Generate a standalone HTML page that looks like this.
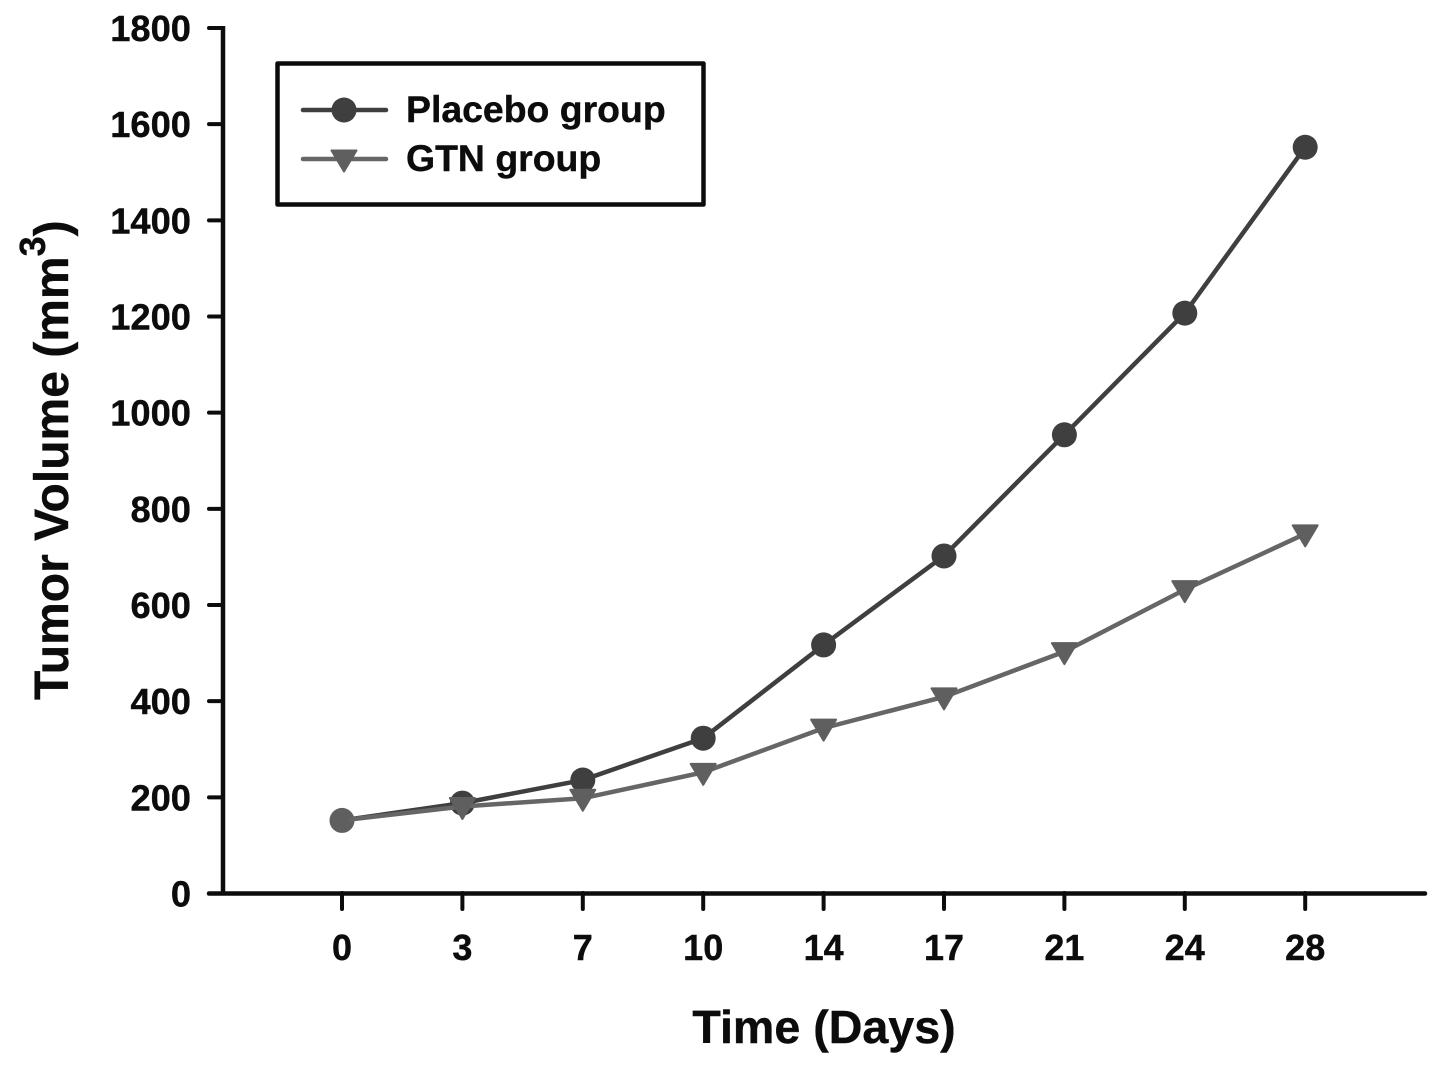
<!DOCTYPE html>
<html>
<head>
<meta charset="utf-8">
<style>
html,body{margin:0;padding:0;background:#fff;}
svg{display:block;}
text{font-family:"Liberation Sans",Arial,sans-serif;font-weight:bold;fill:#0c0c0c;stroke:#0c0c0c;stroke-width:0.4px;}
</style>
</head>
<body>
<svg id="chart" width="1441" height="1070" viewBox="0 0 1441 1070" xmlns="http://www.w3.org/2000/svg"></svg>
<script>
const categories = ['0','3','7','10','14','17','21','24','28'];
const placeboValues = [152,188,236,323,517,702,954,1207,1552];
const gtnValues = [152,181,198,252,344,409,503,632,748];
const yTicks = [0,200,400,600,800,1000,1200,1400,1600,1800];

const svg = document.getElementById('chart');
const NS = 'http://www.w3.org/2000/svg';
const DARK = '#3f3f3f';
const GRAY = '#5f5f5f';
const LINE_GRAY = '#666666';
function make(tag, attrs, parent){
  const el = document.createElementNS(NS, tag);
  for (const k in attrs) el.setAttribute(k, attrs[k]);
  (parent || svg).appendChild(el);
  return el;
}
function xScale(i){ return 342 + i * 120.4; }
function yScale(v){ return 893.5 - v * (893.5 - 28) / 1800; }

// Axes
const yAxis = make('line',{x1:223,y1:26,x2:223,y2:895,stroke:'#0c0c0c','stroke-width':4.5});


const xAxis = make('line',{x1:209,y1:893.5,x2:1425,y2:893.5,stroke:'#0c0c0c','stroke-width':4.5,'stroke-linecap':'round'});



yTicks.forEach(function(t){
  const y = yScale(t);
  const tick = make('line',{x1:209,y1:y,x2:223,y2:y,stroke:'#0c0c0c','stroke-width':4,'stroke-linecap':'round'});
  
  
  const label = make('text',{x:191,y:y+13,'text-anchor':'end','font-size':36.3});
  label.textContent = t;
  
  
});

categories.forEach(function(c,i){
  const x = xScale(i);
  const tick = make('line',{x1:x,y1:893,x2:x,y2:909,stroke:'#0c0c0c','stroke-width':4,'stroke-linecap':'round'});
  
  
  const label = make('text',{x:x,y:960,'text-anchor':'middle','font-size':36});
  label.textContent = c;
  
  
});

function circle(cx, cy, parent, fill){
  return make('circle',{cx:cx,cy:cy,r:12.5,fill:fill}, parent);
}
function triangle(cx, cy, parent, scale){
  const s = scale || 1;
  const p = (cx-12.5*s)+','+(cy-8.5*s)+' '+(cx+12.5*s)+','+(cy-8.5*s)+' '+cx+','+(cy+12.5*s);
  return make('polygon',{points:p,fill:GRAY,stroke:GRAY,'stroke-width':2,'stroke-linejoin':'round'}, parent);
}
function overlapping(i){
  return Math.abs(placeboValues[i] - gtnValues[i]) < 5;
}

// Placebo series
const placeboGroup = make('g',{});


make('polyline',{points:placeboValues.map(function(v,i){return xScale(i)+','+yScale(v);}).join(' '),fill:'none',stroke:DARK,'stroke-width':4.5}, placeboGroup);
placeboValues.forEach(function(v,i){
  const m = circle(xScale(i), yScale(v), placeboGroup, overlapping(i) ? GRAY : DARK);
  
  
});

// GTN series
const gtnGroup = make('g',{});


make('polyline',{points:gtnValues.map(function(v,i){return xScale(i)+','+yScale(v);}).join(' '),fill:'none',stroke:LINE_GRAY,'stroke-width':4.5}, gtnGroup);
gtnValues.forEach(function(v,i){
  const m = triangle(xScale(i), yScale(v), gtnGroup, overlapping(i) ? 0.72 : 1);
  
  
});

// Legend
const legend = make('g',{});


make('rect',{x:277.5,y:63.5,width:426,height:141,fill:'#fff',stroke:'#0c0c0c','stroke-width':4.5,'stroke-linejoin':'round'}, legend);
const e1 = make('g',{}, legend);


make('line',{x1:303,y1:110,x2:386,y2:110,stroke:DARK,'stroke-width':4.5,'stroke-linecap':'round'}, e1);
circle(344,110,e1,DARK);
const t1 = make('text',{x:406,y:122,'font-size':37.4}, e1);
t1.textContent = 'Placebo group';
const e2 = make('g',{}, legend);


make('line',{x1:303,y1:159,x2:386,y2:159,stroke:LINE_GRAY,'stroke-width':4.5,'stroke-linecap':'round'}, e2);
triangle(344,159,e2);
const t2 = make('text',{x:406,y:171,'font-size':37.4}, e2);
t2.textContent = 'GTN group';

// Axis titles
const xTitle = make('text',{x:824,y:1043,'text-anchor':'middle','font-size':46.6});
xTitle.textContent = 'Time (Days)';



const yTitle = make('text',{transform:'translate(68,700) rotate(-90)','font-size':48});


const s1 = make('tspan',{}, yTitle);
s1.textContent = 'Tumor Volume (mm';
const s2 = make('tspan',{'font-size':36,dy:-23}, yTitle);
s2.textContent = '3';
const s3 = make('tspan',{dy:23}, yTitle);
s3.textContent = ')';
</script>
</body>
</html>
